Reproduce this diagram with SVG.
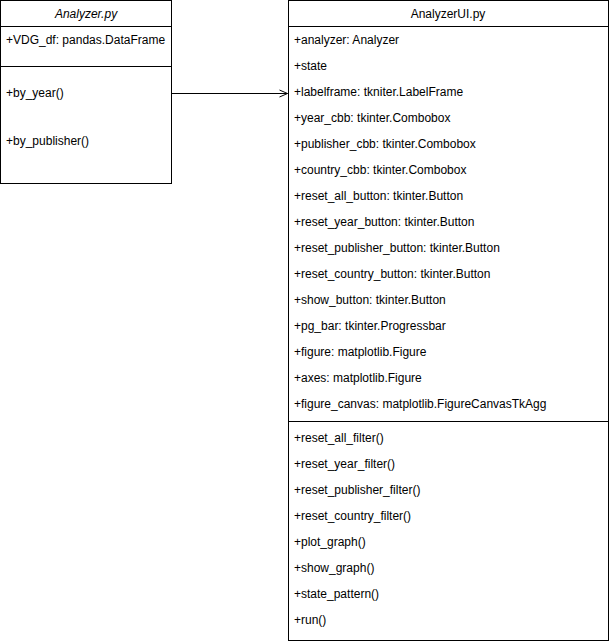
<svg xmlns="http://www.w3.org/2000/svg" width="609" height="641" viewBox="0 0 609 641">
<style>
.box{fill:#fff;stroke:#000;stroke-width:1}
.sep{stroke:#000;stroke-width:1}
text{font-family:"Liberation Sans",Arial,sans-serif;font-size:12px;fill:#000;dominant-baseline:central}
.t{text-anchor:middle}
.i{font-style:italic}
.edge{fill:none;stroke:#000;stroke-width:1}
</style>
<defs>
<marker id="open" markerWidth="10" markerHeight="10" refX="9" refY="5" orient="auto" markerUnits="userSpaceOnUse">
<path d="M1,1.5 L9,5 L1,8.5" fill="none" stroke="#000" stroke-width="1"/>
</marker>
</defs>
<g id="edges">
<path class="edge" d="M171.5,93.5 L287.5,93.5" marker-end="url(#open)"/>
</g>
<g id="analyzer">
<rect class="box" x="0.5" y="0.5" width="171" height="183"/>
<line class="sep" x1="0.5" y1="26.5" x2="171.5" y2="26.5"/>
<line class="sep" x1="0.5" y1="66.5" x2="171.5" y2="66.5"/>
<text class="t i" x="86" y="14">Analyzer.py</text>
<text x="6" y="40">+VDG_df: pandas.DataFrame</text>
<text x="6" y="93">+by_year()</text>
<text x="6" y="141">+by_publisher()</text>
</g>
<g id="analyzerui">
<rect class="box" x="288.5" y="0.5" width="320" height="640"/>
<line class="sep" x1="288.5" y1="26.5" x2="608.5" y2="26.5"/>
<line class="sep" x1="288.5" y1="421.5" x2="608.5" y2="421.5"/>
<text class="t" x="448" y="14">AnalyzerUI.py</text>
<text x="294" y="40">+analyzer: Analyzer</text>
<text x="294" y="66">+state</text>
<text x="294" y="92">+labelframe: tkniter.LabelFrame</text>
<text x="294" y="118">+year_cbb: tkinter.Combobox</text>
<text x="294" y="144">+publisher_cbb: tkinter.Combobox</text>
<text x="294" y="170">+country_cbb: tkinter.Combobox</text>
<text x="294" y="196">+reset_all_button: tkinter.Button</text>
<text x="294" y="222">+reset_year_button: tkinter.Button</text>
<text x="294" y="248">+reset_publisher_button: tkinter.Button</text>
<text x="294" y="274">+reset_country_button: tkinter.Button</text>
<text x="294" y="300">+show_button: tkinter.Button</text>
<text x="294" y="326">+pg_bar: tkinter.Progressbar</text>
<text x="294" y="352">+figure: matplotlib.Figure</text>
<text x="294" y="378">+axes: matplotlib.Figure</text>
<text x="294" y="404">+figure_canvas: matplotlib.FigureCanvasTkAgg</text>
<text x="294" y="438">+reset_all_filter()</text>
<text x="294" y="464">+reset_year_filter()</text>
<text x="294" y="490">+reset_publisher_filter()</text>
<text x="294" y="516">+reset_country_filter()</text>
<text x="294" y="542">+plot_graph()</text>
<text x="294" y="568">+show_graph()</text>
<text x="294" y="594">+state_pattern()</text>
<text x="294" y="620">+run()</text>
</g>
</svg>
